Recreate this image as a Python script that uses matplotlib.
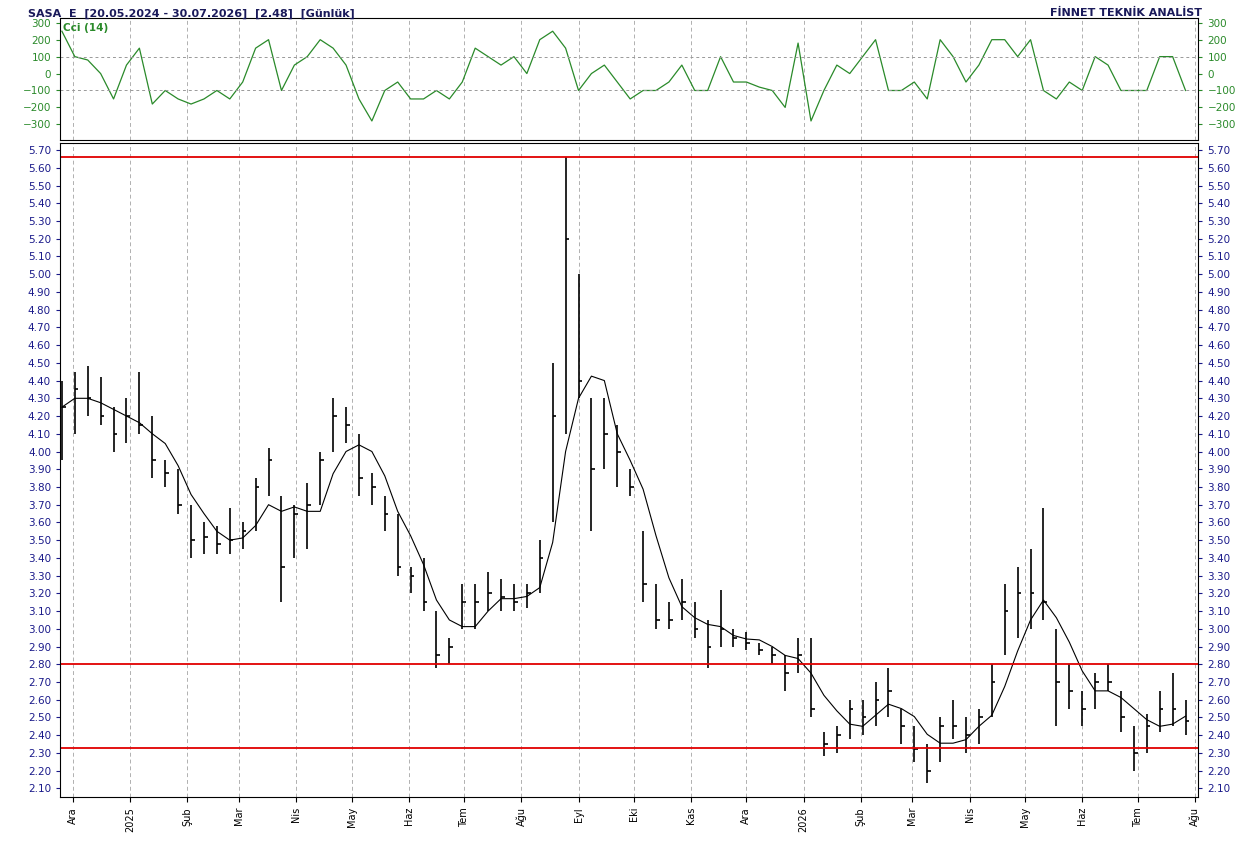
import matplotlib
matplotlib.use("Agg")
import matplotlib.pyplot as plt
import numpy as np
import pandas as pd

highs = [4.40,4.45,4.48,4.42,4.25,4.30,4.45,4.20,3.95,3.90,3.70,3.60,3.58,3.68,3.60,3.85,4.02,3.75,3.70,3.82,
         4.00,4.30,4.25,4.10,3.88,3.75,3.65,3.35,3.40,3.10,2.95,3.25,3.25,3.32,3.28,3.25,3.25,3.50,4.50,5.66,
         5.00,4.30,4.30,4.15,3.90,3.55,3.25,3.15,3.28,3.15,3.05,3.22,3.00,2.98,2.92,2.90,2.85,2.95,2.95,2.42,
         2.45,2.60,2.60,2.70,2.78,2.55,2.45,2.35,2.50,2.60,2.50,2.55,2.80,3.25,3.35,3.45,3.68,3.00,2.80,2.65,
         2.75,2.80,2.65,2.45,2.52,2.65,2.75,2.60]
lows = [3.95,4.10,4.20,4.15,4.00,4.05,4.10,3.85,3.80,3.65,3.40,3.42,3.42,3.42,3.45,3.55,3.75,3.15,3.40,3.45,
        3.70,4.00,4.05,3.75,3.70,3.55,3.30,3.20,3.10,2.78,2.80,3.00,3.00,3.10,3.10,3.10,3.12,3.20,3.60,4.10,
        4.30,3.55,3.90,3.80,3.75,3.15,3.00,3.00,3.05,2.95,2.78,2.90,2.90,2.88,2.85,2.80,2.65,2.75,2.50,2.28,
        2.30,2.38,2.40,2.45,2.50,2.35,2.25,2.13,2.25,2.38,2.30,2.35,2.50,2.85,2.95,3.00,3.05,2.45,2.55,2.45,
        2.55,2.65,2.42,2.20,2.30,2.42,2.45,2.40]
closes = [4.25,4.35,4.30,4.20,4.10,4.20,4.15,3.95,3.88,3.70,3.50,3.52,3.48,3.50,3.55,3.80,3.95,3.35,3.65,3.70,
          3.95,4.20,4.15,3.85,3.80,3.65,3.35,3.30,3.15,2.85,2.90,3.15,3.15,3.20,3.18,3.15,3.20,3.40,4.20,5.20,
          4.40,3.90,4.10,4.00,3.80,3.25,3.05,3.05,3.15,3.00,2.90,3.00,2.95,2.92,2.88,2.85,2.75,2.85,2.55,2.35,
          2.40,2.55,2.50,2.60,2.65,2.45,2.32,2.20,2.45,2.45,2.40,2.50,2.70,3.10,3.20,3.20,3.15,2.70,2.65,2.55,
          2.70,2.70,2.50,2.30,2.45,2.55,2.55,2.48]
cci = [250,100,80,0,-150,50,150,-180,-100,-150,-180,-150,-100,-150,-50,150,200,-100,50,100,
       200,150,50,-150,-280,-100,-50,-150,-150,-100,-150,-50,150,100,50,100,0,200,250,150,
       -100,0,50,-50,-150,-100,-100,-50,50,-100,-100,100,-50,-50,-80,-100,-200,180,-280,-100,
       50,0,100,200,-100,-100,-50,-150,200,100,-50,50,200,200,100,200,-100,-150,-50,-100,
       100,50,-100,-100,-100,100,100,-100]
month_labels = ['Ara','2025','Şub','Mar','Nis','May','Haz','Tem','Ağu','Eyl','Eki','Kas','Ara',
                '2026','Şub','Mar','Nis','May','Haz','Tem','Ağu']
levels = [5.66, 2.80, 2.33]

dates = pd.date_range('2024-11-25', periods=len(closes), freq='7D')
ma = pd.Series(closes).rolling(4, min_periods=1).mean()
months = pd.date_range('2024-12-01', periods=len(month_labels), freq='MS')

fig = plt.figure(figsize=(12.51, 8.41), dpi=100)
ax1 = fig.add_axes([0.048, 0.834, 0.910, 0.145])
ax2 = fig.add_axes([0.048, 0.052, 0.910, 0.778])
xmin, xmax = pd.Timestamp('2024-11-24'), pd.Timestamp('2026-08-03')

for ax in (ax1, ax2):
    ax.set_xlim(xmin, xmax)
    ax.set_xticks(months)
    for m in months:
        ax.axvline(m, color='#b0b0b0', ls=(0, (4, 3)), lw=0.7, zorder=0)
    ax.tick_params(axis='y', which='both', left=True, right=True, labelleft=True, labelright=True,
                   labelsize=7.5, length=3)

ax1.plot(dates, cci, color='#2a8a2a', lw=0.9)
ax1.set_ylim(-390, 330)
ax1.set_yticks([-300, -200, -100, 0, 100, 200, 300])
ax1.tick_params(axis='y', colors='#2a8a2a', labelcolor='#2a8a2a')
for v in (100, -100):
    ax1.axhline(v, color='#999999', ls=(0, (3, 3)), lw=0.7)
ax1.set_xticklabels([])
ax1.tick_params(axis='x', length=0)
ax1.text(0.003, 0.96, 'Cci (14)', transform=ax1.transAxes, color='#2a8a2a', fontsize=7.5,
         fontweight='bold', va='top')

ax2.vlines(dates, lows, highs, color='black', lw=1.2)
ax2.hlines(closes, dates, dates + pd.Timedelta(days=2), color='black', lw=1.2)
ax2.plot(dates, ma, color='black', lw=0.8)
for lv in levels:
    ax2.axhline(lv, color='#e00000', lw=1.3)
ax2.set_ylim(2.05, 5.74)
ax2.set_yticks(np.round(np.arange(2.1, 5.71, 0.1), 2))
ax2.set_yticklabels([f'{v:.2f}' for v in np.arange(2.1, 5.71, 0.1)])
ax2.tick_params(axis='y', colors='#1a1a8a', labelcolor='#1a1a8a')
ax2.set_xticklabels(month_labels, rotation=90, fontsize=7)

fig.text(0.022, 0.99, 'SASA  E  [20.05.2024 - 30.07.2026]  [2.48]  [Günlük]', fontsize=8,
         fontweight='bold', color='#1a1a5a', va='top')
fig.text(0.961, 0.99, 'FİNNET TEKNİK ANALİST', fontsize=8, fontweight='bold', color='#1a1a5a',
         va='top', ha='right')
fig.savefig('out.png', dpi=100)
